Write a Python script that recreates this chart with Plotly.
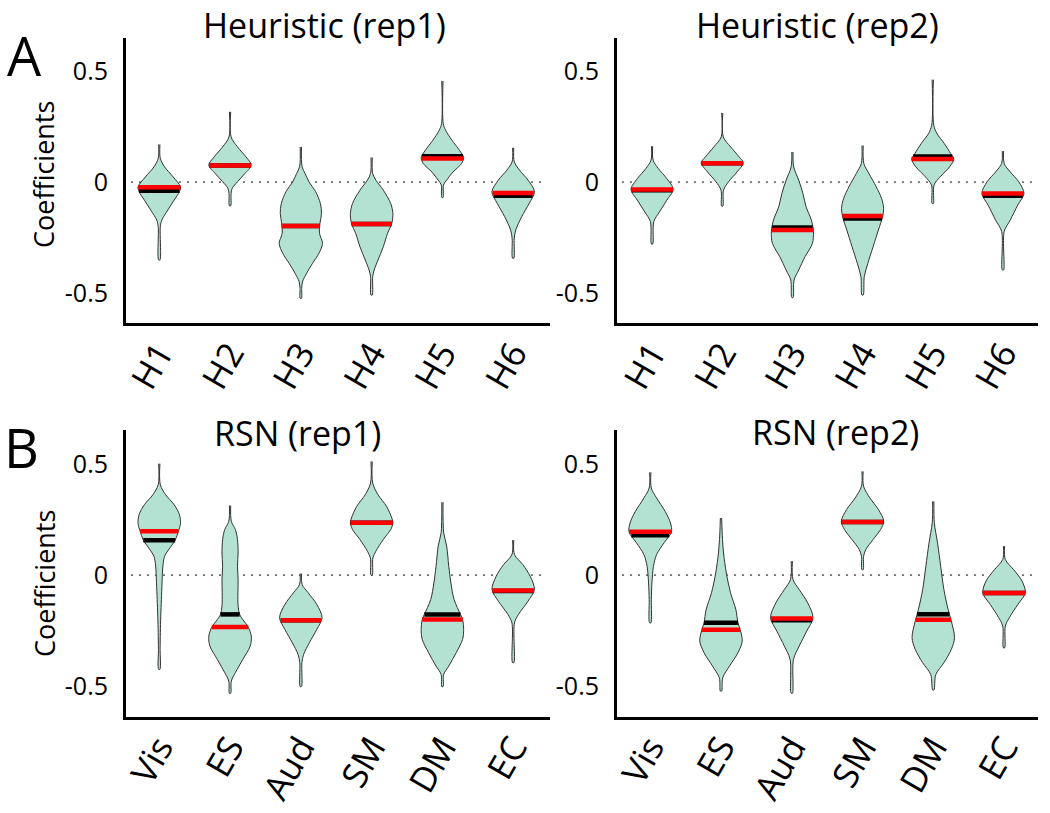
import numpy as np
import plotly.graph_objects as go

# ---------------- data ----------------
H_CATS = ["H1", "H2", "H3", "H4", "H5", "H6"]
RSN_CATS = ["Vis", "ES", "Aud", "SM", "DM", "EC"]

# Violin density profiles: coefficient values (Y) and relative half-widths (W)
A1_Y = [
    [0.17, 0.107, 0.069, 0.024, -0.021, -0.043, -0.081, -0.126, -0.171, -0.201, -0.351],
    [0.317, 0.204, 0.159, 0.114, 0.077, 0.039, 0.002, -0.028, -0.051, -0.107],
    [0.159, 0.069, 0.039, 0.002, -0.043, -0.096, -0.141, -0.186, -0.231, -0.276, -0.321, -0.366, -0.411, -0.449, -0.479, -0.524],
    [0.111, 0.039, 0.009, -0.036, -0.096, -0.141, -0.186, -0.231, -0.291, -0.351, -0.396, -0.426, -0.509],
    [0.456, 0.264, 0.234, 0.189, 0.144, 0.111, 0.084, 0.046, 0.009, -0.013, -0.069],
    [0.155, 0.092, 0.054, 0.009, -0.043, -0.096, -0.156, -0.216, -0.254, -0.343],
]
A1_W = [
    [0.03, 0.05, 0.25, 0.65, 1.0, 0.95, 0.7, 0.4, 0.12, 0.05, 0.03],
    [0.03, 0.05, 0.35, 0.75, 1.0, 0.7, 0.35, 0.1, 0.05, 0.03],
    [0.03, 0.06, 0.2, 0.38, 0.7, 0.92, 0.97, 0.9, 0.88, 1.02, 0.85, 0.55, 0.27, 0.08, 0.04, 0.03],
    [0.03, 0.05, 0.2, 0.55, 0.9, 1.0, 0.95, 0.75, 0.55, 0.3, 0.12, 0.05, 0.03],
    [0.03, 0.04, 0.15, 0.45, 0.8, 1.0, 0.9, 0.5, 0.2, 0.05, 0.03],
    [0.03, 0.05, 0.3, 0.7, 1.0, 0.75, 0.4, 0.12, 0.05, 0.03],
]
A1_MEDIAN = [-0.023, 0.075, -0.198, -0.189, 0.107, -0.049]
A1_MEAN = [-0.039, 0.075, -0.198, -0.189, 0.117, -0.061]

A2_Y = [
    [0.162, 0.099, 0.061, 0.016, -0.032, -0.081, -0.134, -0.178, -0.279],
    [0.312, 0.204, 0.159, 0.114, 0.087, 0.046, 0.002, -0.036, -0.108],
    [0.136, 0.069, 0.009, -0.051, -0.111, -0.171, -0.223, -0.276, -0.336, -0.396, -0.441, -0.52],
    [0.165, 0.084, 0.039, -0.021, -0.073, -0.118, -0.156, -0.216, -0.291, -0.366, -0.426, -0.509],
    [0.462, 0.257, 0.219, 0.174, 0.129, 0.104, 0.069, 0.024, -0.013, -0.096],
    [0.140, 0.084, 0.046, 0.002, -0.051, -0.104, -0.171, -0.223, -0.396],
]
A2_W = [
    [0.03, 0.05, 0.3, 0.7, 1.0, 0.7, 0.35, 0.08, 0.03],
    [0.03, 0.05, 0.4, 0.8, 1.0, 0.7, 0.3, 0.06, 0.03],
    [0.03, 0.06, 0.3, 0.5, 0.65, 0.9, 1.0, 0.95, 0.6, 0.3, 0.08, 0.03],
    [0.03, 0.06, 0.3, 0.65, 0.9, 1.0, 0.95, 0.75, 0.5, 0.25, 0.08, 0.03],
    [0.03, 0.05, 0.2, 0.55, 0.85, 1.0, 0.8, 0.35, 0.06, 0.03],
    [0.03, 0.06, 0.35, 0.75, 1.0, 0.7, 0.35, 0.06, 0.03],
]
A2_MEDIAN = [-0.033, 0.085, -0.216, -0.153, 0.104, -0.051]
A2_MEAN = [-0.036, 0.085, -0.204, -0.164, 0.116, -0.061]

B1_Y = [
    [0.503, 0.408, 0.363, 0.318, 0.273, 0.233, 0.198, 0.158, 0.123, 0.085, 0.040, -0.035, -0.110, -0.185, -0.260, -0.335, -0.425],
    [0.314, 0.243, 0.206, 0.161, 0.100, 0.040, -0.020, -0.080, -0.140, -0.177, -0.207, -0.233, -0.275, -0.320, -0.380, -0.440, -0.478, -0.533],
    [0.007, -0.042, -0.080, -0.132, -0.192, -0.245, -0.305, -0.358, -0.395, -0.503],
    [0.513, 0.416, 0.363, 0.311, 0.258, 0.236, 0.206, 0.161, 0.108, 0.078, 0.0],
    [0.329, 0.191, 0.131, 0.040, -0.035, -0.110, -0.177, -0.200, -0.245, -0.290, -0.350, -0.410, -0.448, -0.503],
    [0.158, 0.093, 0.048, -0.005, -0.065, -0.117, -0.177, -0.215, -0.395],
]
B1_W = [
    [0.03, 0.05, 0.3, 0.7, 0.95, 1.0, 0.9, 0.75, 0.5, 0.25, 0.17, 0.13, 0.1, 0.07, 0.05, 0.04, 0.03],
    [0.03, 0.06, 0.25, 0.35, 0.38, 0.35, 0.38, 0.37, 0.38, 0.45, 0.65, 0.85, 1.0, 0.95, 0.6, 0.25, 0.06, 0.03],
    [0.03, 0.06, 0.35, 0.75, 1.0, 0.75, 0.4, 0.13, 0.05, 0.03],
    [0.03, 0.05, 0.3, 0.7, 0.95, 1.0, 0.9, 0.55, 0.2, 0.06, 0.03],
    [0.03, 0.06, 0.2, 0.3, 0.4, 0.55, 0.85, 0.95, 1.0, 0.95, 0.65, 0.3, 0.06, 0.03],
    [0.03, 0.06, 0.45, 0.8, 1.0, 0.7, 0.25, 0.06, 0.03],
]
B1_MEDIAN = [0.198, -0.234, -0.204, 0.237, -0.200, -0.069]
B1_MEAN = [0.158, -0.177, -0.204, 0.237, -0.177, -0.072]

B2_Y = [
    [0.464, 0.393, 0.348, 0.288, 0.236, 0.195, 0.146, 0.093, 0.040, -0.035, -0.110, -0.215],
    [0.258, 0.161, 0.100, 0.010, -0.080, -0.155, -0.215, -0.245, -0.297, -0.350, -0.410, -0.463, -0.523],
    [0.063, -0.020, -0.065, -0.125, -0.192, -0.253, -0.320, -0.380, -0.533],
    [0.468, 0.401, 0.348, 0.296, 0.243, 0.206, 0.161, 0.115, 0.085, 0.025],
    [0.333, 0.236, 0.146, 0.040, -0.065, -0.155, -0.207, -0.282, -0.335, -0.395, -0.448, -0.518],
    [0.131, 0.071, 0.025, -0.027, -0.080, -0.132, -0.192, -0.230, -0.328],
]
B2_W = [
    [0.03, 0.05, 0.3, 0.7, 0.95, 1.0, 0.65, 0.3, 0.15, 0.08, 0.05, 0.03],
    [0.03, 0.07, 0.12, 0.25, 0.45, 0.7, 0.8, 0.9, 1.0, 0.8, 0.4, 0.08, 0.03],
    [0.03, 0.06, 0.35, 0.75, 1.0, 0.7, 0.35, 0.08, 0.03],
    [0.03, 0.05, 0.35, 0.75, 1.0, 0.85, 0.5, 0.15, 0.05, 0.03],
    [0.03, 0.05, 0.2, 0.35, 0.5, 0.7, 0.85, 1.0, 0.85, 0.5, 0.12, 0.03],
    [0.03, 0.06, 0.45, 0.85, 1.0, 0.65, 0.25, 0.06, 0.03],
]
B2_MEDIAN = [0.196, -0.246, -0.195, 0.240, -0.201, -0.080]
B2_MEAN = [0.180, -0.215, -0.204, 0.240, -0.176, -0.080]

TITLES = ["Heuristic (rep1)", "Heuristic (rep2)", "RSN (rep1)", "RSN (rep2)"]
Y_TICKS = [-0.5, 0, 0.5]
Y_TICKTEXT = ["-0.5", "0", "0.5"]

# ---------------- style ----------------
W_FIG, H_FIG = 1050, 813
FILL = "#b3e1d2"
EDGE = "#333333"
HALF = 0.30  # max half-width in category units
FONT = "Open Sans"

panels = [
    dict(cats=H_CATS, Y=A1_Y, W=A1_W, med=A1_MEDIAN, mean=A1_MEAN,
         x0=126, x1=550, top=38, bot=323, xr=[0.53, 6.52], yr=[-0.635, 0.65]),
    dict(cats=H_CATS, Y=A2_Y, W=A2_W, med=A2_MEDIAN, mean=A2_MEAN,
         x0=617, x1=1038, top=38, bot=323, xr=[0.5, 6.5], yr=[-0.635, 0.65]),
    dict(cats=RSN_CATS, Y=B1_Y, W=B1_W, med=B1_MEDIAN, mean=B1_MEAN,
         x0=126, x1=550, top=430, bot=717, xr=[0.53, 6.52], yr=[-0.64, 0.655]),
    dict(cats=RSN_CATS, Y=B2_Y, W=B2_W, med=B2_MEDIAN, mean=B2_MEAN,
         x0=617, x1=1038, top=430, bot=717, xr=[0.53, 6.48], yr=[-0.64, 0.655]),
]

fig = go.Figure()
layout = dict(
    width=W_FIG, height=H_FIG,
    margin=dict(l=0, r=0, t=0, b=0, autoexpand=False),
    plot_bgcolor="white", paper_bgcolor="white",
    showlegend=False,
    font=dict(family=FONT, color="black"),
)
shapes = []
annotations = []

for i, p in enumerate(panels):
    k = "" if i == 0 else str(i + 1)
    xa, ya = "x" + k, "y" + k
    layout["xaxis" + k] = dict(
        domain=[p["x0"] / W_FIG, p["x1"] / W_FIG], anchor=ya,
        range=p["xr"], tickvals=list(range(1, 7)), ticktext=p["cats"],
        tickangle=-60, tickfont=dict(size=35, family=FONT), ticklabelstandoff=-7,
        showline=True, linewidth=3, linecolor="black", mirror=False, automargin=False,
        showgrid=False, zeroline=False, ticks="", fixedrange=True,
    )
    layout["yaxis" + k] = dict(
        domain=[1 - p["bot"] / H_FIG, 1 - p["top"] / H_FIG], anchor=xa,
        range=p["yr"], tickvals=Y_TICKS, ticktext=Y_TICKTEXT,
        tickfont=dict(size=25, family=FONT), ticklabelstandoff=10, automargin=False,
        showline=True, linewidth=3, linecolor="black",
        showgrid=False, zeroline=False, ticks="", fixedrange=True,
    )
    # dotted zero line
    shapes.append(dict(type="line", xref=xa, yref=ya, x0=p["xr"][0] + 0.07, x1=p["xr"][1] - 0.05,
                       y0=0, y1=0, line=dict(color="#6f6f6f", width=1.6, dash="2px,6px"),
                       layer="below"))
    for j in range(6):
        c = j + 1
        Y = np.array(p["Y"][j])
        Wr = np.array(p["W"][j]) * HALF
        xs = np.concatenate([c + Wr, (c - Wr)[::-1]])
        ys = np.concatenate([Y, Y[::-1]])
        fig.add_trace(go.Scatter(
            x=xs, y=ys, xaxis=xa, yaxis=ya, mode="lines", fill="toself",
            fillcolor=FILL, line=dict(color=EDGE, width=1, shape="spline", smoothing=0.9),
            hoverinfo="skip",
        ))
        for val, col in ((p["mean"][j], "black"), (p["med"][j], "#ff0000")):
            hw = np.interp(val, Y[::-1], Wr[::-1])
            fig.add_trace(go.Scatter(
                x=[c - hw, c + hw], y=[val, val], xaxis=xa, yaxis=ya, mode="lines",
                line=dict(color=col, width=4.5), hoverinfo="skip",
            ))

# titles
for (txt, x, y) in [(TITLES[0], 324, 25), (TITLES[1], 817, 25),
                    (TITLES[2], 297, 433), (TITLES[3], 835, 432)]:
    annotations.append(dict(text=txt, x=x / W_FIG, y=1 - y / H_FIG, xref="paper", yref="paper",
                            xanchor="center", yanchor="middle", showarrow=False,
                            font=dict(size=34, family=FONT, color="black")))
# panel letters
for (txt, x, y) in [("A", 24, 55), ("B", 21, 447)]:
    annotations.append(dict(text=txt, x=x / W_FIG, y=1 - y / H_FIG, xref="paper", yref="paper",
                            xanchor="center", yanchor="middle", showarrow=False,
                            font=dict(size=54, family=FONT, color="black")))
# y-axis titles
for y in (175, 584):
    annotations.append(dict(text="Coefficients", x=44 / W_FIG, y=1 - y / H_FIG, xref="paper",
                            yref="paper", xanchor="center", yanchor="middle", textangle=-90,
                            showarrow=False, font=dict(size=27, family=FONT, color="black")))

layout["shapes"] = shapes
layout["annotations"] = annotations
fig.update_layout(**layout)
fig.write_html(
    "out.html",
    config={"displayModeBar": False},
    post_script="document.body.style.margin='0';document.body.style.overflow='hidden';",
)
